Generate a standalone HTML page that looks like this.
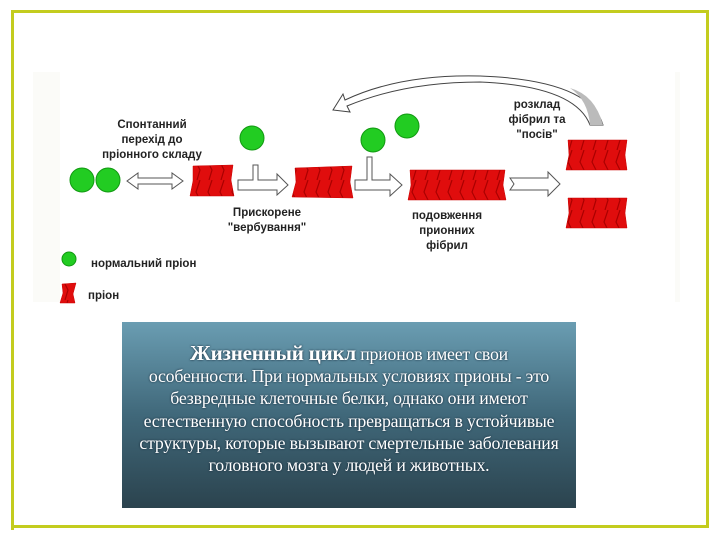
<!DOCTYPE html>
<html><head><meta charset="utf-8"><style>
html,body{margin:0;padding:0;background:#fff;width:720px;height:540px;overflow:hidden}
#frame{position:absolute;left:11px;top:10px;width:695px;height:517px;border-left:3px solid #c3cc1e;border-top:3px solid #c3cc1e;}
#bottom{position:absolute;left:11px;top:525px;width:698px;height:3px;background:#c3cc1e}
#right{position:absolute;left:706px;top:10px;width:3px;height:518px;background:#c3cc1e}
svg{position:absolute;left:0;top:0}
.l{font-family:"Liberation Sans",sans-serif;font-weight:bold;font-size:11.5px;fill:#222}
#box{position:absolute;left:122px;top:322px;width:454px;height:186px;background:linear-gradient(#6a9db2,#40687a 50%,#2b434e);color:#fff;font-family:"Liberation Serif",serif;font-size:17.8px;line-height:22.2px;text-align:center;box-sizing:border-box;padding-top:20px;text-shadow:0 0 2px #123;white-space:nowrap;letter-spacing:-0.2px}
#box b{font-size:21px}
</style></head><body>
<div id="frame"></div><div id="right"></div><div id="bottom"></div>
<svg width="720" height="540">
<rect x="33" y="72" width="647" height="230" fill="#fbfbf8"/>
<rect x="60" y="72" width="615" height="230" fill="#fff"/>
<defs>
<pattern id="rp" width="12" height="30" patternUnits="userSpaceOnUse"><rect width="12" height="30" fill="#e00d0d"/><path d="M8 0 L4 12 L8 20 L5 30" stroke="#a00" stroke-width="1.2" fill="none"/></pattern>
</defs>
<g fill="#22cc22" stroke="#119911" stroke-width="1">
<circle cx="82" cy="180" r="12"/><circle cx="108" cy="180" r="12"/>
<circle cx="252" cy="138" r="12"/><circle cx="373" cy="140" r="12"/><circle cx="407" cy="126" r="12"/>
<circle cx="69" cy="259" r="7"/>
</g>
<g fill="#fff" stroke="#555" stroke-width="1">
<path d="M127 181 L138 173 L138 178 L172 178 L172 173 L183 181 L172 189 L172 184 L138 184 L138 189 Z"/>
<path d="M238 180 L253 180 L253 165 L258 165 L258 180 L277 180 L277 174 L288 185 L277 195 L277 190 L238 190 Z"/>
<path d="M355 180 L367 180 L367 157 L372 157 L372 180 L390 180 L390 174 L402 185 L390 196 L390 190 L355 190 Z"/>
<path d="M510 178 L548 178 L548 172 L560 184 L548 196 L548 190 L510 190 L514 184 Z"/>
</g>
<path d="M603 125 Q590 80 480 76 Q400 74 345 100 L343 94 L333 110 L350 112 L347 106 Q405 82 480 82 Q575 86 590 125 Z" fill="#fff" stroke="#444" stroke-width="1"/>
<path d="M603 125 Q595 95 570 88 Q588 100 590 125 Z" fill="#bbb"/>
<g fill="url(#rp)" stroke="#c00" stroke-width="0.5">
<path d="M193 166 L233 165 L231 180 L234 196 L190 196 L193 181 Z"/>
<path d="M295 168 L352 166 L350 182 L353 198 L292 197 L296 182 Z"/>
<path d="M410 170 L505 170 L503 185 L506 200 L408 200 L411 185 Z"/>
<path d="M568 140 L627 140 L625 155 L627 170 L566 170 L569 155 Z"/>
<path d="M568 198 L627 198 L625 213 L627 228 L566 228 L569 213 Z"/>
<path d="M62 284 L76 283 L73 294 L75 303 L60 303 L63 293 Z"/>
</g>
<g class="l" text-anchor="middle">
<text x="152" y="128">Спонтанний</text><text x="152" y="143">перехід до</text><text x="152" y="158">пріонного складу</text>
<text x="267" y="216">Прискорене</text><text x="267" y="231">"вербування"</text>
<text x="447" y="219">подовження</text><text x="447" y="234">прионних</text><text x="447" y="249">фібрил</text>
<text x="537" y="108">розклад</text><text x="537" y="123">фібрил та</text><text x="537" y="138">"посів"</text>
</g>
<text class="l" x="91" y="267">нормальний пріон</text>
<text class="l" x="88" y="299">пріон</text>
</svg>
<div id="box"><b>Жизненный цикл</b> прионов имеет свои<br>особенности. При нормальных условиях прионы - это<br>безвредные клеточные белки, однако они имеют<br>естественную способность превращаться в устойчивые<br>структуры, которые вызывают смертельные заболевания<br>головного мозга у людей и животных.</div>
</body></html>
